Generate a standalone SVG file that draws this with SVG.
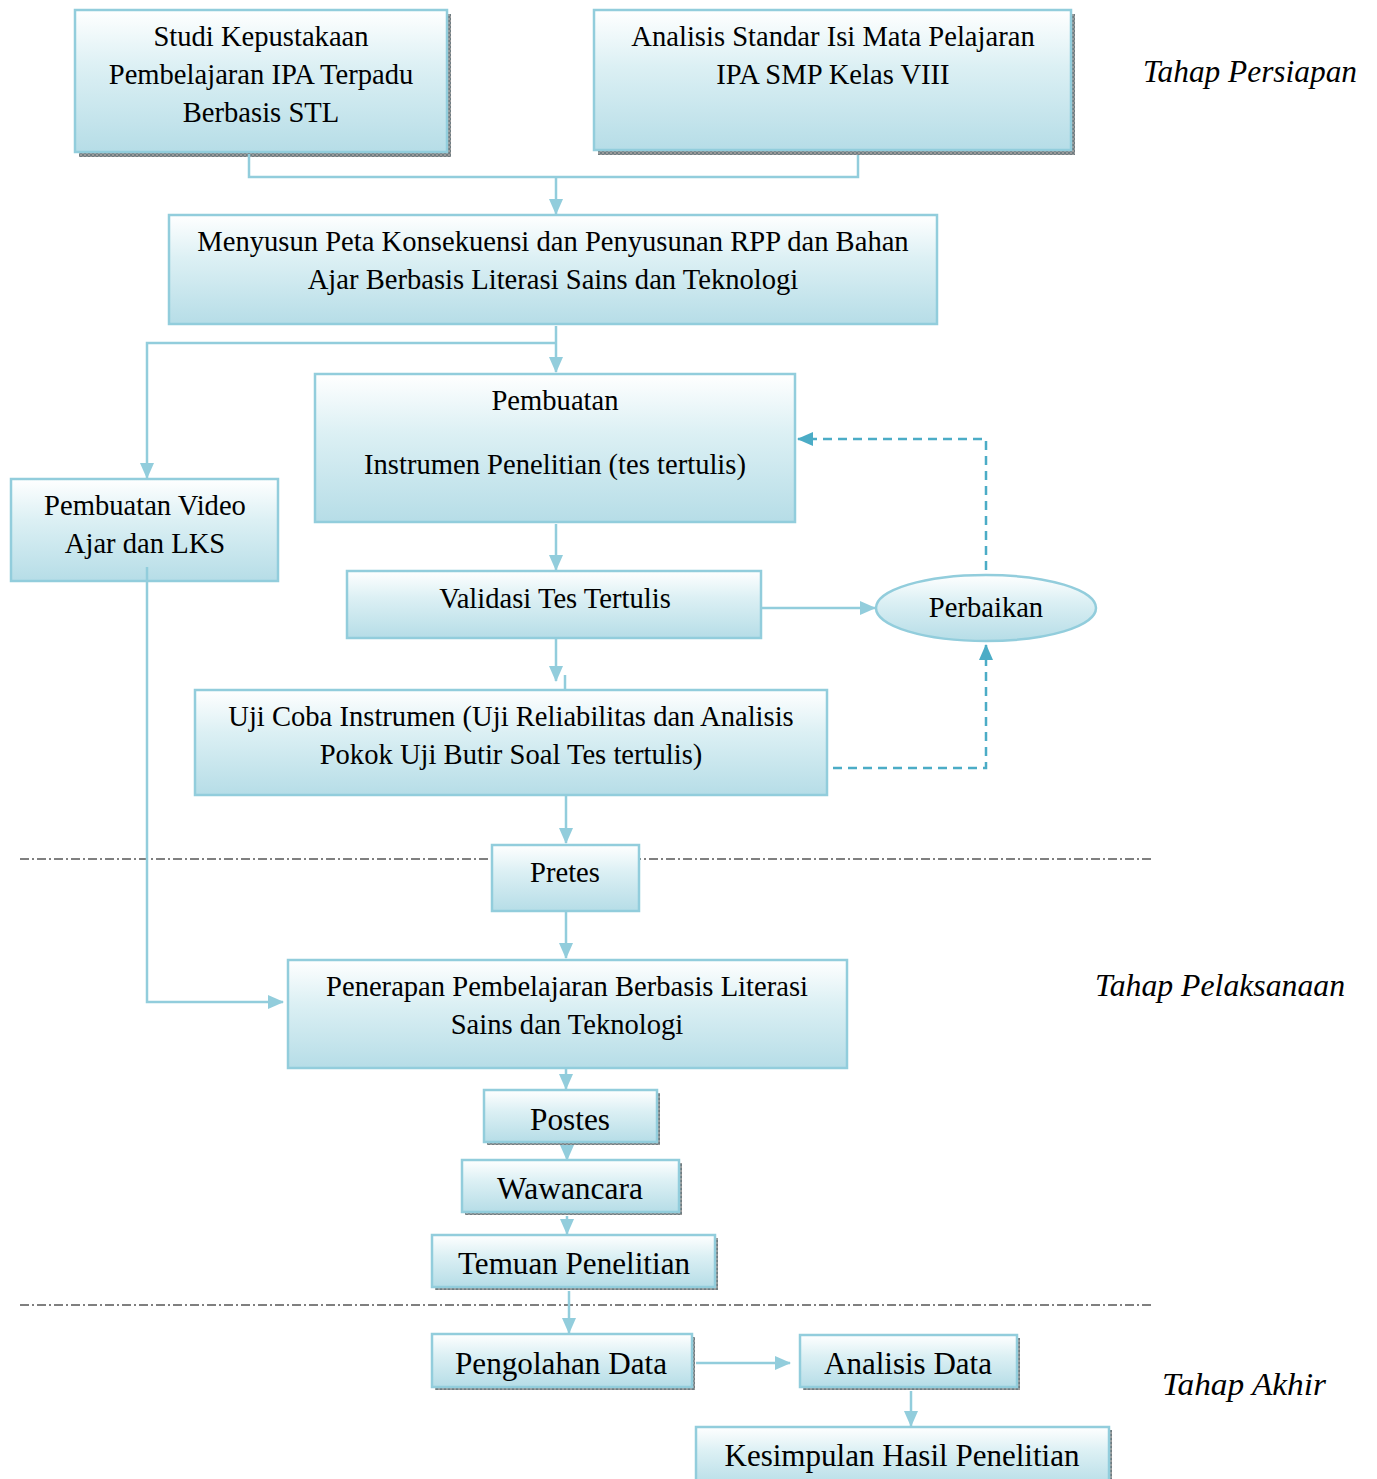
<svg xmlns="http://www.w3.org/2000/svg" width="1377" height="1479" viewBox="0 0 1377 1479">
<defs>
<linearGradient id="g" x1="0" y1="0" x2="0" y2="1">
<stop offset="0" stop-color="#ffffff"/>
<stop offset="0.4" stop-color="#dcf0f4"/>
<stop offset="1" stop-color="#b6dde7"/>
</linearGradient>
<pattern id="sh" width="4" height="4" patternUnits="userSpaceOnUse">
<rect width="4" height="4" fill="#9a9a9a"/>
<rect width="2" height="2" fill="#6f7d82"/>
<rect x="2" y="2" width="2" height="2" fill="#6f7d82"/>
</pattern>
<marker id="a" markerUnits="userSpaceOnUse" markerWidth="16" markerHeight="16" viewBox="0 0 16 16" refX="15" refY="8" orient="auto">
<path d="M0,1 L16,8 L0,15 Z" fill="#92cddc"/>
</marker>
<marker id="ad" markerUnits="userSpaceOnUse" markerWidth="16" markerHeight="16" viewBox="0 0 16 16" refX="15" refY="8" orient="auto">
<path d="M0,1 L16,8 L0,15 Z" fill="#4bacc6"/>
</marker>
</defs>
<style>
.b{fill:url(#g);stroke:#92cddc;stroke-width:2.5}
.s{fill:url(#sh)}
.t{font-family:"Liberation Serif","Times New Roman",serif;font-size:28.6px;fill:#000;text-anchor:middle}
.tb{font-family:"Liberation Serif","Times New Roman",serif;font-size:32px;fill:#000;text-anchor:middle}
.it{font-family:"Liberation Serif","Times New Roman",serif;font-style:italic;font-size:31px;fill:#000}
.c{fill:none;stroke:#92cddc;stroke-width:2.5}
.d{fill:none;stroke:#4bacc6;stroke-width:2.5;stroke-dasharray:9 6}
.dd{fill:none;stroke:#000;stroke-width:1;stroke-dasharray:9 3 2 3}
</style>
<rect width="1377" height="1479" fill="#fff"/>

<g id="separators">
<line class="dd" x1="20" y1="859" x2="1153" y2="859"/>
<line class="dd" x1="20" y1="1305" x2="1153" y2="1305"/>
</g>

<g id="n1">
<rect class="s" x="79" y="14" width="372" height="143"/>
<rect class="b" x="75" y="10" width="372" height="142"/>
<text class="t" x="261" y="46">Studi Kepustakaan</text>
<text class="t" x="261" y="84">Pembelajaran IPA Terpadu</text>
<text class="t" x="261" y="122">Berbasis STL</text>
</g>

<g id="n2">
<rect class="s" x="598" y="14" width="477" height="141"/>
<rect class="b" x="594" y="10" width="477" height="140"/>
<text class="t" x="833" y="46">Analisis Standar Isi Mata Pelajaran</text>
<text class="t" x="833" y="84">IPA SMP Kelas VIII</text>
</g>

<g id="n3">
<rect class="b" x="169" y="215" width="768" height="109"/>
<text class="t" x="553" y="251">Menyusun Peta Konsekuensi dan Penyusunan RPP dan Bahan</text>
<text class="t" x="553" y="289">Ajar Berbasis Literasi Sains dan Teknologi</text>
</g>

<g id="n4">
<rect class="b" x="315" y="374" width="480" height="148"/>
<text class="t" x="555" y="410">Pembuatan</text>
<text class="t" x="555" y="474">Instrumen Penelitian (tes tertulis)</text>
</g>

<g id="n5">
<rect class="b" x="11" y="479" width="267" height="102"/>
<text class="t" x="145" y="515">Pembuatan Video</text>
<text class="t" x="145" y="553">Ajar dan LKS</text>
</g>

<g id="n6">
<rect class="b" x="347" y="571" width="414" height="67"/>
<text class="t" x="555" y="608">Validasi Tes Tertulis</text>
</g>

<g id="n7">
<ellipse class="b" cx="986" cy="608" rx="110" ry="33"/>
<text class="t" x="986" y="617">Perbaikan</text>
</g>

<g id="n8">
<rect class="b" x="195" y="690" width="632" height="105"/>
<text class="t" x="511" y="726">Uji Coba Instrumen (Uji Reliabilitas dan Analisis</text>
<text class="t" x="511" y="764">Pokok Uji Butir Soal Tes tertulis)</text>
</g>

<g id="n9">
<rect class="b" x="492" y="845" width="147" height="66"/>
<text class="t" x="565" y="882">Pretes</text>
</g>

<g id="n10">
<rect class="b" x="288" y="960" width="559" height="108"/>
<text class="t" x="567" y="996">Penerapan Pembelajaran Berbasis Literasi</text>
<text class="t" x="567" y="1034">Sains dan Teknologi</text>
</g>

<g id="n11">
<rect class="s" x="487" y="1093" width="173" height="52"/>
<rect class="b" x="484" y="1090" width="173" height="52"/>
<text class="tb" x="570" y="1130" textLength="80" lengthAdjust="spacingAndGlyphs">Postes</text>
</g>

<g id="n12">
<rect class="s" x="465" y="1163" width="217" height="52"/>
<rect class="b" x="462" y="1160" width="217" height="52"/>
<text class="tb" x="570" y="1199" textLength="146" lengthAdjust="spacingAndGlyphs">Wawancara</text>
</g>

<g id="n13">
<rect class="s" x="435" y="1238" width="283" height="52"/>
<rect class="b" x="432" y="1235" width="283" height="52"/>
<text class="tb" x="574" y="1274" textLength="232" lengthAdjust="spacingAndGlyphs">Temuan Penelitian</text>
</g>

<g id="n14">
<rect class="s" x="435" y="1337" width="260" height="53"/>
<rect class="b" x="432" y="1334" width="260" height="53"/>
<text class="tb" x="561" y="1374" textLength="212" lengthAdjust="spacingAndGlyphs">Pengolahan Data</text>
</g>

<g id="n15">
<rect class="s" x="803" y="1338" width="217" height="52"/>
<rect class="b" x="800" y="1335" width="217" height="52"/>
<text class="tb" x="908" y="1374" textLength="168" lengthAdjust="spacingAndGlyphs">Analisis Data</text>
</g>

<g id="n16">
<rect class="s" x="699" y="1430" width="413" height="60"/>
<rect class="b" x="696" y="1427" width="413" height="60"/>
<text class="tb" x="902" y="1466" textLength="355" lengthAdjust="spacingAndGlyphs">Kesimpulan Hasil Penelitian</text>
</g>

<g id="labels">
<text class="it" x="1143" y="82" textLength="214" lengthAdjust="spacingAndGlyphs">Tahap Persiapan</text>
<text class="it" x="1095" y="996" textLength="250" lengthAdjust="spacingAndGlyphs">Tahap Pelaksanaan</text>
<text class="it" x="1162" y="1395" textLength="164" lengthAdjust="spacingAndGlyphs">Tahap Akhir</text>
</g>

<g id="connectors">
<polyline class="c" points="249,154 249,177 858,177 858,155"/>
<line class="c" x1="556" y1="177" x2="556" y2="214" marker-end="url(#a)"/>
<line class="c" x1="556" y1="326" x2="556" y2="372" marker-end="url(#a)"/>
<polyline class="c" points="556,343 147,343 147,478" marker-end="url(#a)"/>
<line class="c" x1="556" y1="524" x2="556" y2="570" marker-end="url(#a)"/>
<line class="c" x1="762" y1="608" x2="875" y2="608" marker-end="url(#a)"/>
<line class="c" x1="556" y1="639" x2="556" y2="681" marker-end="url(#a)"/>
<line class="c" x1="565" y1="675" x2="565" y2="689"/>
<line class="c" x1="566" y1="796" x2="566" y2="843" marker-end="url(#a)"/>
<line class="c" x1="566" y1="912" x2="566" y2="958" marker-end="url(#a)"/>
<polyline class="c" points="147,567 147,1002 283,1002" marker-end="url(#a)"/>
<line class="c" x1="566" y1="1069" x2="566" y2="1089" marker-end="url(#a)"/>
<line class="c" x1="567" y1="1146" x2="567" y2="1160" marker-end="url(#a)"/>
<line class="c" x1="567" y1="1216" x2="567" y2="1234" marker-end="url(#a)"/>
<line class="c" x1="569" y1="1291" x2="569" y2="1333" marker-end="url(#a)"/>
<line class="c" x1="696" y1="1363" x2="790" y2="1363" marker-end="url(#a)"/>
<line class="c" x1="911" y1="1391" x2="911" y2="1426" marker-end="url(#a)"/>
<polyline class="d" points="986,570 986,439 798,439" marker-end="url(#ad)"/>
<polyline class="d" points="833,768 986,768 986,645" marker-end="url(#ad)"/>
</g>
</svg>
